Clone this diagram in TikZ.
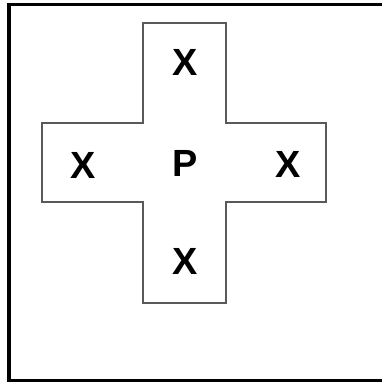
\documentclass[tikz,border=0pt]{standalone}
\usepackage{fontspec}
\setmainfont{Liberation Sans}
\begin{document}
\begin{tikzpicture}[x=1bp,y=-1bp,
  lbl/.style={font=\fontsize{38}{38}\selectfont\bfseries, inner sep=0pt},
  crossline/.style={draw=black!65, line width=1.5bp}]
\useasboundingbox (0,0) rectangle (382,382);
\clip (0,0) rectangle (382,382);
\draw[line width=3bp] (9,4) rectangle (430,380.5);
\draw[crossline] (143,23) -- (226,23) -- (226,123) -- (326,123) -- (326,202)
  -- (226,202) -- (226,303) -- (143,303) -- (143,202) -- (42,202) -- (42,123)
  -- (143,123) -- cycle;
\node[lbl] (xt) at (185.5,62) {X};
\node[lbl] (xl) at (83.5,165.5) {X};
\node[lbl] (p) at (185,163) {P};
\node[lbl] (xr) at (288.5,164.5) {X};
\node[lbl] (xb) at (185,261.5) {X};
\end{tikzpicture}
\end{document}
